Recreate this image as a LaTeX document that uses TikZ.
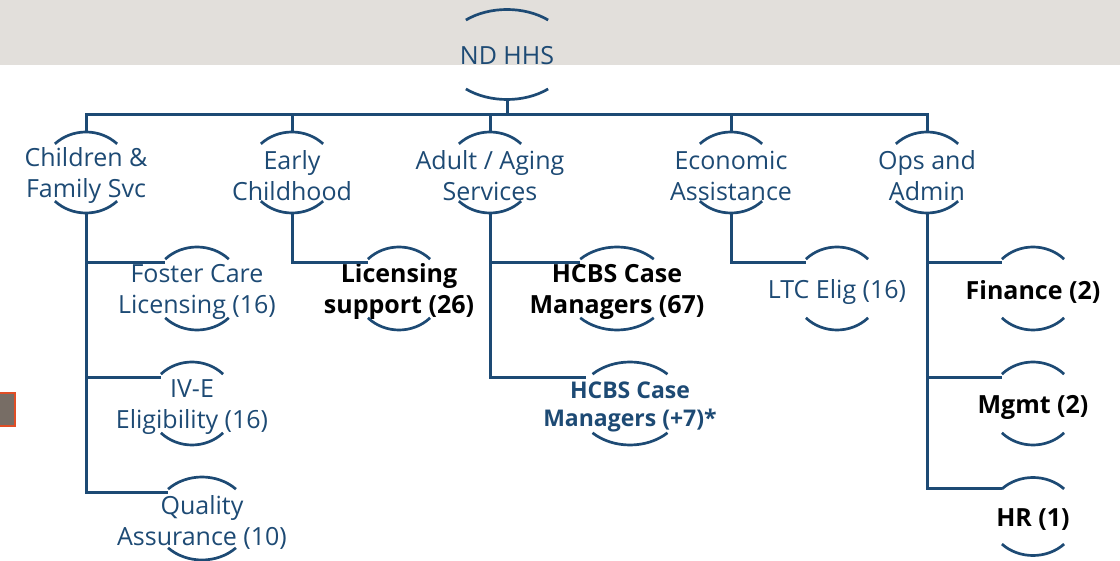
\documentclass[tikz,border=0pt]{standalone}
\usepackage{fontspec}
\setmainfont{Open Sans}
\usetikzlibrary{calc}
\definecolor{navy}{HTML}{1D4A74}
\definecolor{band}{HTML}{E2DFDB}
\definecolor{markfill}{HTML}{776D65}
\definecolor{markedge}{HTML}{E04E26}
\tikzset{
  reg/.style={align=center, inner sep=0pt, text=navy, font=\fontsize{25}{31}\selectfont},
  bld/.style={reg, text=black, font=\fontsize{25}{31}\selectfont\bfseries},
  bldnavy/.style={reg, text=navy, font=\fontsize{23}{28}\selectfont\bfseries},
  arcline/.style={draw=navy, line width=2.7pt},
  conn/.style={draw=navy, line width=3pt},
}
% #1 name, #2 position, #3 x radius, #4 y radius, #5 style, #6 text, #7 arc angle offset, #8 text drop
\newcommand\orgnode[8]{%
  \coordinate (#1-c) at (#2);
  \node[#5] (#1) at ([yshift=-#8pt]#1-c) {#6};
  \coordinate (#1-t) at ($(#1-c)+(0,-#4)$);
  \coordinate (#1-b) at ($(#1-c)+(0,#4)$);
  \coordinate (#1-tl) at ($(#1-c)+({-cos(#7)*#3},-26)$);
  \draw[arcline] ([shift={({180+#7}:#3 and #4)}]#1-c) arc[start angle={180+#7},end angle={360-#7},x radius=#3,y radius=#4];
  \draw[arcline] ([shift={(#7:#3 and #4)}]#1-c) arc[start angle=#7,end angle={180-#7},x radius=#3,y radius=#4];
}
\begin{document}
\begin{tikzpicture}[x=1pt,y=-1pt]
\useasboundingbox (0,0) rectangle (1120,561);
\fill[band] (0,0) rectangle (1120,65);
\node[draw=markedge, fill=markfill, line width=2pt, minimum width=20pt, minimum height=33pt, inner sep=0pt] (mark) at (5,410) {};

\orgnode{nd}{507,54.5}{64}{45}{reg}{ND HHS}{50}{1}

\orgnode{cfs}{86,172.5}{44}{40.5}{reg}{Children \&\\Family Svc}{45}{3.5}
\orgnode{early}{292,172.5}{44}{40.5}{reg}{Early\\Childhood}{45}{3.5}
\orgnode{adult}{490,172.5}{44}{40.5}{reg}{Adult / Aging\\Services}{45}{3.5}
\orgnode{econ}{731,172.5}{44}{40.5}{reg}{Economic\\Assistance}{45}{3.5}
\orgnode{ops}{927,172.5}{44}{40.5}{reg}{Ops and\\Admin}{45}{3.5}

\orgnode{foster}{197,288.5}{45}{41.5}{reg}{Foster Care\\Licensing (16)}{45}{3.5}
\orgnode{ive}{192,403.5}{44}{41.5}{reg}{IV-E\\Eligibility (16)}{45}{3.5}
\orgnode{qa}{202,518.5}{48}{41.5}{reg}{Quality\\Assurance (10)}{45}{3.5}
\orgnode{lic}{399,288.5}{44}{41.5}{bld}{Licensing\\support (26)}{45}{3.5}
\orgnode{hcbs}{617,288.5}{52}{41.5}{bld}{HCBS Case\\Managers (67)}{45}{3.5}
\orgnode{hcbsx}{630,403.5}{53}{41.5}{bldnavy}{HCBS Case\\Managers (+7)*}{45}{3}
\orgnode{ltc}{837,288.5}{44}{41.5}{reg}{LTC Elig (16)}{45}{3.5}
\orgnode{fin}{1033,288.5}{44}{41.5}{bld}{Finance (2)}{45}{3.5}
\orgnode{mgmt}{1033,403.5}{44}{41.5}{bld}{Mgmt (2)}{45}{3.5}
\orgnode{hr}{1033,516.5}{44}{39}{bld}{HR (1)}{45}{3.5}

\coordinate (bus) at (507,115);
\draw[conn] (nd-b) -- (bus);
\draw[conn] (cfs-t) |- (bus) -| (ops-t);
\foreach \n in {early,adult,econ} \draw[conn] (\n-t) -- (\n-t |- bus);

\draw[conn] (cfs-b) |- (foster-tl);
\draw[conn] (cfs-b) |- (ive-tl);
\draw[conn] (cfs-b) |- (qa-tl);
\draw[conn] (early-b) |- (lic-tl);
\draw[conn] (adult-b) |- (hcbs-tl);
\draw[conn] (adult-b) |- ([xshift=-7pt]hcbsx-tl);
\draw[conn] (econ-b) |- (ltc-tl);
\draw[conn] (ops-b) |- (fin-tl);
\draw[conn] (ops-b) |- (mgmt-tl);
\draw[conn] (ops-b) |- ([yshift=2pt]hr-tl);
\end{tikzpicture}
\end{document}
